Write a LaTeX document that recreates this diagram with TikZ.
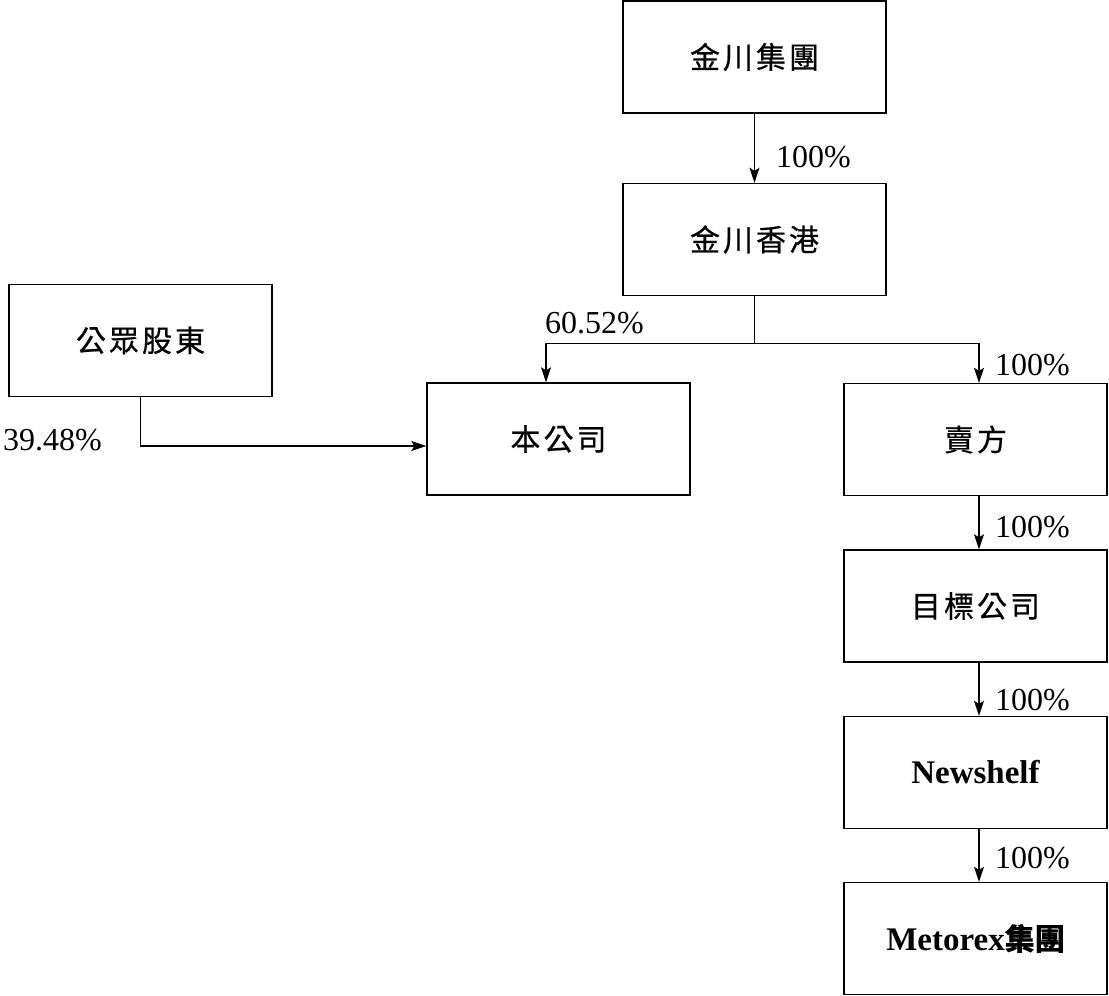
\documentclass[tikz,border=0pt]{standalone}
\usepackage{fontspec}
\setmainfont{Liberation Serif}
\newfontfamily\cjk[LetterSpace=10,FakeBold=0.6]{Noto Sans CJK TC}
\newfontfamily\cjkplain[FakeBold=0.6]{Noto Sans CJK TC}
\usetikzlibrary{arrows.meta}
\begin{document}
\begin{tikzpicture}[x=1pt,y=-1pt,
  box/.style={draw, line width=1.4pt, minimum width=263pt, minimum height=112pt, inner sep=0pt, font=\cjk\fontsize{30}{32}\selectfont},
  pct/.style={font=\fontsize{32}{34}\selectfont, inner sep=0pt, anchor=west},
  link/.style={line width=1.4pt},
  conn/.style={line width=1.4pt, -{Stealth[length=15pt,width=10pt,inset=3pt]}}]
\useasboundingbox (0,0) rectangle (1109,996);
\node[box] (jcg) at (754.5,57) {金川集團};
\node[box] (jchk) at (754.5,239.5) {金川香港};
\node[box] (public) at (140.5,340.5) {公眾股東};
\node[box] (company) at (558.5,439) {本公司};
\node[box] (seller) at (975.5,439.5) {賣方};
\node[box] (target) at (975.5,606) {目標公司};
\node[box, font=\bfseries\fontsize{33}{35}\selectfont] (newshelf) at (975.5,772.5) {Newshelf};
\node[box, font=\bfseries\fontsize{33}{35}\selectfont] (metorex) at (975.5,938.5) {Metorex{\cjkplain\fontsize{30}{32}\selectfont 集團}};

\draw[conn] (jcg.south) -- (jchk.north);
\draw[link] (jchk.south) -- ++(0,47) coordinate (split);
\draw[conn] (split) -| ([xshift=-12.5pt]company.north);
\draw[conn] (split) -| ([xshift=3.5pt]seller.north);
\draw[conn] (public.south) |- ([yshift=-7pt]company.west);
\draw[conn] ([xshift=3.5pt]seller.south) -- ([xshift=3.5pt]target.north);
\draw[conn] ([xshift=3.5pt]target.south) -- ([xshift=3.5pt]newshelf.north);
\draw[conn] ([xshift=3.5pt]newshelf.south) -- ([xshift=3.5pt]metorex.north);

\node[pct] (l1) at (776,157) {100\%};
\node[pct] (l60) at (545,323) {60.52\%};
\node[pct] (l39) at (3,440) {39.48\%};
\node[pct] (r1) at (995,365) {100\%};
\node[pct] (r2) at (995,527) {100\%};
\node[pct] (r3) at (995,700) {100\%};
\node[pct] (r4) at (995,858) {100\%};
\end{tikzpicture}
\end{document}
